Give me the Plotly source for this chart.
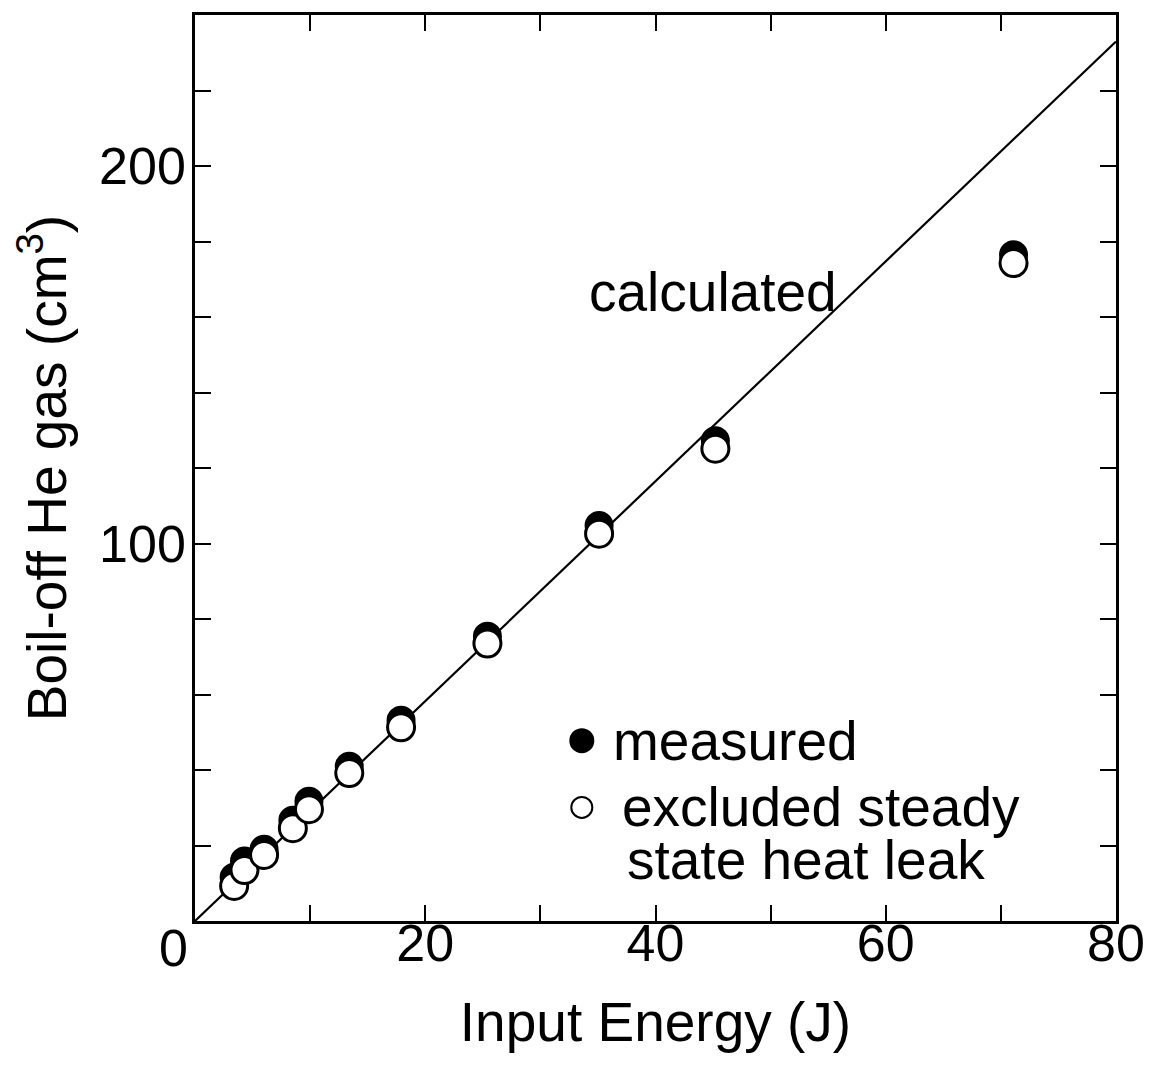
import plotly.graph_objects as go

# Data
energy_measured = [3.4, 4.3, 6.0, 8.5, 9.9, 13.4, 17.9, 25.4, 35.1, 45.2, 71.1]
gas_measured = [11.6, 15.9, 19.0, 26.7, 31.7, 41.0, 53.2, 75.4, 104.8, 127.2, 176.5]
energy_excluded = [3.4, 4.3, 6.0, 8.5, 9.9, 13.4, 17.9, 25.4, 35.1, 45.2, 71.1]
gas_excluded = [9.3, 13.5, 17.5, 24.6, 29.6, 39.2, 51.3, 73.5, 102.6, 125.1, 174.3]
calc_x = [0, 80]
calc_y = [0, 233]

x_tickvals = [0, 10, 20, 30, 40, 50, 60, 70, 80]
x_ticktext = ["", "", "20", "", "40", "", "60", "", "80"]
y_tickvals = [0, 20, 40, 60, 80, 100, 120, 140, 160, 180, 200, 220, 240]
y_ticktext = ["", "", "", "", "", "100", "", "", "", "", "200", "", ""]

FONT = "Liberation Sans, Arial, sans-serif"
TXT = 55
TICK = 52

fig = go.Figure()
fig.add_trace(go.Scatter(x=calc_x, y=calc_y, mode="lines",
                         line=dict(color="black", width=2.2), showlegend=False))
fig.add_trace(go.Scatter(x=energy_measured, y=gas_measured, mode="markers",
                         marker=dict(symbol="circle", size=27, color="black",
                                     line=dict(color="black", width=2)),
                         showlegend=False))
fig.add_trace(go.Scatter(x=energy_excluded, y=gas_excluded, mode="markers",
                         marker=dict(symbol="circle", size=27, color="white",
                                     line=dict(color="black", width=3)),
                         showlegend=False))

axis_common = dict(showline=True, linecolor="black", linewidth=2.5, mirror="ticks",
                   ticks="inside", ticklen=16, tickwidth=2, tickcolor="black",
                   showgrid=False, zeroline=False,
                   tickfont=dict(family=FONT, size=TICK, color="black"))

fig.update_xaxes(range=[0, 80], tickmode="array", tickvals=x_tickvals, ticktext=x_ticktext,
                 ticklabelstandoff=-25,
                 title=dict(text="Input Energy (J)", font=dict(family=FONT, size=TXT, color="black"),
                            standoff=32),
                 **axis_common)
fig.update_yaxes(range=[0, 240], tickmode="array", tickvals=y_tickvals, ticktext=y_ticktext,
                 ticklabelstandoff=-4,
                 title=dict(text="Boil-off He gas (cm<sup>3</sup>)",
                            font=dict(family=FONT, size=TXT, color="black"), standoff=28),
                 **axis_common)

annotations = [
    dict(x=0, y=0, xref="x", yref="y", text="0", showarrow=False, xanchor="center", yanchor="top",
         xshift=-22, yshift=4, font=dict(family=FONT, size=TICK, color="black")),
    dict(x=0.4256, y=0.694, xref="paper", yref="paper", text="calculated", showarrow=False,
         xanchor="left", yanchor="middle", font=dict(family=FONT, size=TXT, color="black")),
    dict(x=0.452, y=0.199, xref="paper", yref="paper", text="measured", showarrow=False,
         xanchor="left", yanchor="middle", font=dict(family=FONT, size=TXT, color="black")),
    dict(x=0.4616, y=0.1254, xref="paper", yref="paper", text="excluded steady", showarrow=False,
         xanchor="left", yanchor="middle", font=dict(family=FONT, size=TXT, color="black")),
    dict(x=0.4671, y=0.0671, xref="paper", yref="paper", text="state heat leak", showarrow=False,
         xanchor="left", yanchor="middle", font=dict(family=FONT, size=TXT, color="black")),
]

shapes = [
    dict(type="circle", xref="paper", yref="paper", xsizemode="pixel", ysizemode="pixel",
         xanchor=0.420, yanchor=0.199, x0=-11.5, x1=11.5, y0=-11.5, y1=11.5,
         fillcolor="black", line=dict(color="black", width=2)),
    dict(type="circle", xref="paper", yref="paper", xsizemode="pixel", ysizemode="pixel",
         xanchor=0.420, yanchor=0.1254, x0=-10.5, x1=10.5, y0=-10.5, y1=10.5,
         fillcolor="white", line=dict(color="black", width=2)),
]

fig.update_layout(width=1158, height=1068, plot_bgcolor="white", paper_bgcolor="white",
                  margin=dict(l=187, r=50, t=4, b=155),
                  annotations=annotations, shapes=shapes, showlegend=False)

fig.write_html("out.html")
